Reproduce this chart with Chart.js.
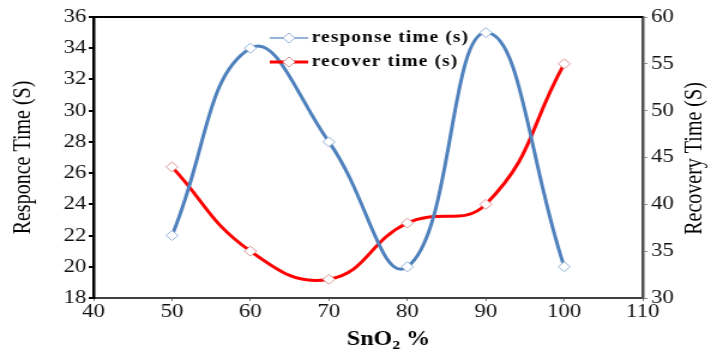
<!DOCTYPE html>
<html>
<head>
<meta charset="utf-8">
<script src="https://cdn.jsdelivr.net/npm/chart.js@4.4.1/dist/chart.umd.min.js"></script>
<style>
    html, body { margin: 0; padding: 0; background: #fff; overflow: hidden; }
    #wrap { width: 711px; height: 351px; }
    /* the reference is stretched sideways, so draw narrower and stretch */
    #sensorChart { transform: scaleX(1.19899); transform-origin: 0 0; }
</style>
</head>
<body>
<div id="wrap"><canvas id="sensorChart" width="593" height="351"></canvas></div>
<script>
// Data
const sno2Percent = [50, 60, 70, 80, 90, 100];
const responseTime = [22, 34, 28, 20, 35, 20];
const recoverTime = [44, 35, 32, 38, 40, 55];

const responseLabel = 'response time (s)';
const recoverLabel = 'recover time (s)';

const serif = "'Liberation Serif', 'Times New Roman', serif";

function toPoints(xs, ys) {
    return xs.map(function(x, i) { return { x: x, y: ys[i] }; });
}

// Extra drawing: top frame line, legend, x title, right title
const extras = {
    id: 'extras',
    afterDraw(chart) {
        const ctx = chart.ctx;
        const area = chart.chartArea;
        ctx.save();

        // top frame
        ctx.strokeStyle = '#000';
        ctx.lineWidth = 2;
        ctx.beginPath();
        ctx.moveTo(area.left, area.top);
        ctx.lineTo(area.right, area.top);
        ctx.stroke();

        // legend inside plot
        const rows = [
            { ds: chart.data.datasets[0], line: '#95B3D7', w: 2, y: 38 },
            { ds: chart.data.datasets[1], line: '#FF0000', w: 3, y: 62 }
        ];
        rows.forEach(function(r) {
            ctx.strokeStyle = r.line;
            ctx.lineWidth = r.w;
            ctx.beginPath();
            ctx.moveTo(225, r.y);
            ctx.lineTo(257, r.y);
            ctx.stroke();
            ctx.fillStyle = '#fff';
            ctx.strokeStyle = r.ds.pointBorderColor;
            ctx.lineWidth = 1;
            ctx.beginPath();
            ctx.moveTo(241, r.y - 5);
            ctx.lineTo(246, r.y);
            ctx.lineTo(241, r.y + 5);
            ctx.lineTo(236, r.y);
            ctx.closePath();
            ctx.fill();
            ctx.stroke();
            ctx.fillStyle = '#000';
            ctx.font = 'bold 16px ' + serif;
            ctx.letterSpacing = '1px';
            ctx.textAlign = 'left';
            ctx.textBaseline = 'middle';
            ctx.fillText(r.ds.label, 260, r.y);
        });
        ctx.letterSpacing = '0px';

        // x axis title with subscript
        ctx.fillStyle = '#000';
        ctx.textBaseline = 'alphabetic';
        ctx.textAlign = 'left';
        const big = 'bold 20px ' + serif;
        const small = 'bold 13px ' + serif;
        ctx.font = big;
        const w1 = ctx.measureText('SnO').width;
        const w3 = ctx.measureText(' %').width;
        ctx.font = small;
        const w2 = ctx.measureText('2').width;
        let x = 324 - (w1 + w2 + w3) / 2;
        const base = 345;
        ctx.font = big;
        ctx.fillText('SnO', x, base);
        x += w1;
        ctx.font = small;
        ctx.fillText('2', x, base + 4);
        x += w2;
        ctx.font = big;
        ctx.fillText(' %', x, base);

        // right axis title, reading upward
        ctx.translate(chart.scales.y1.right - 13, (area.top + area.bottom) / 2 + 1);
        ctx.rotate(-Math.PI / 2);
        ctx.font = '20px ' + serif;
        ctx.textAlign = 'center';
        ctx.textBaseline = 'middle';
        ctx.fillText('Recovery Time (S)', 0, 0);

        ctx.restore();
    }
};

const ctx = document.getElementById('sensorChart').getContext('2d');
const sensorChart = new Chart(ctx, {
    type: 'line',
    data: {
        datasets: [{
            label: responseLabel,
            data: toPoints(sno2Percent, responseTime),
            yAxisID: 'y',
            borderColor: '#4F81BD',
            borderWidth: 3,
            pointStyle: 'rectRot',
            pointRadius: 5,
            pointBackgroundColor: '#fff',
            pointBorderColor: '#95B3D7',
            pointBorderWidth: 1,
            tension: 0.45
        }, {
            label: recoverLabel,
            data: toPoints(sno2Percent, recoverTime),
            yAxisID: 'y1',
            borderColor: '#FF0000',
            borderWidth: 3,
            pointStyle: 'rectRot',
            pointRadius: 5,
            pointBackgroundColor: '#fff',
            pointBorderColor: '#D99694',
            pointBorderWidth: 1,
            tension: 0.45
        }]
    },
    options: {
        responsive: false,
        animation: false,
        layout: { padding: { top: 17, left: 0, right: 0, bottom: 0 } },
        plugins: {
            legend: { display: false },
            tooltip: { enabled: false }
        },
        scales: {
            x: {
                type: 'linear',
                min: 40,
                max: 110,
                ticks: { stepSize: 10, color: '#111', font: { family: serif, size: 19 }, padding: 0 },
                grid: { drawOnChartArea: false, drawTicks: true, tickLength: 3, color: '#777' },
                border: { color: '#404040', width: 2 },
                afterFit(scale) { scale.height = 53; }
            },
            y: {
                position: 'left',
                min: 18,
                max: 36,
                ticks: { stepSize: 2, color: '#111', font: { family: serif, size: 19 }, padding: 2 },
                grid: { drawOnChartArea: false, drawTicks: true, tickLength: 4, color: '#000', lineWidth: 2 },
                border: { color: '#000', width: 2.5 },
                title: {
                    display: true,
                    text: 'Responce Time (S)',
                    color: '#000',
                    font: { family: serif, size: 20 },
                    padding: { top: 8, bottom: 0 }
                },
                afterFit(scale) { scale.width = 78; }
            },
            y1: {
                position: 'right',
                min: 30,
                max: 60,
                ticks: { stepSize: 5, color: '#111', font: { family: serif, size: 19 }, padding: 3 },
                grid: { drawOnChartArea: false, drawTicks: true, tickLength: 4, color: '#888' },
                border: { color: '#505050', width: 2.5 },
                afterFit(scale) { scale.width = 57; }
            }
        }
    },
    plugins: [extras]
});
</script>
</body>
</html>
